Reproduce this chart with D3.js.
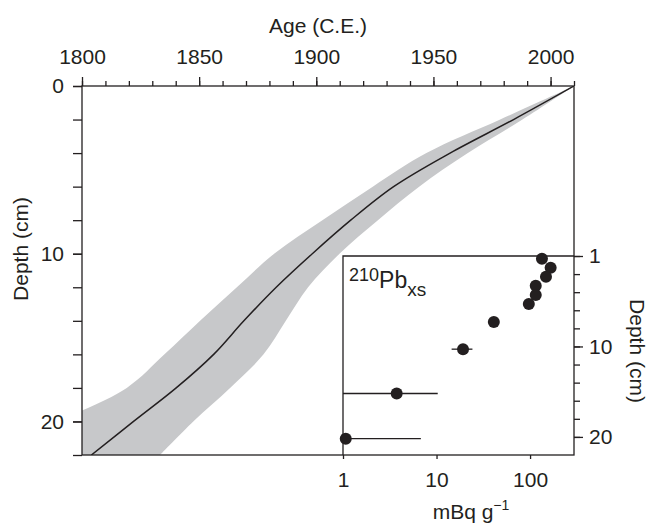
<!DOCTYPE html>
<html>
<head>
<meta charset="utf-8">
<script src="https://cdn.jsdelivr.net/npm/d3@7"></script>
<style>
  body { margin: 0; background: #fff; }
  svg { display: block; font-family: "Liberation Sans", Arial, sans-serif; }
</style>
</head>
<body>
<div id="chart-area"></div>
<script>
// age-depth model (depth in cm, ages in years C.E.)
var modelDepth    = [0, 2, 4, 6, 8, 10, 12, 14, 16, 18, 20, 22];
var modelAge      = [2010, 1984.2, 1957.1, 1933.0, 1914.7, 1898.3, 1882.9, 1869.1, 1856.2, 1840.2, 1822, 1804];
var modelAgeOld   = [2010, 1978.5, 1947.0, 1924.1, 1902.6, 1882.0, 1866.1, 1850.4, 1835.2, 1819.1, 1790, 1762];
var modelAgeYoung = [2010, 1988.0, 1964.7, 1943.9, 1926.3, 1909.9, 1896.5, 1887.0, 1877.5, 1863.2, 1847.5, 1833.3];

// 210Pb excess activity (inset)
var pbDepth    = [0.3, 1.3, 2.3, 3.3, 4.3, 5.3, 7.3, 10.3, 15.2, 20.2];
var pbActivity = [134, 166, 148, 115, 115, 97, 41, 19.2, 3.75, 1.07];
var pbErrLow   = [null, null, null, null, null, null, null, 14.5, 0.3, 0.3];
var pbErrHigh  = [null, null, null, null, null, null, null, 24.2, 10.3, 6.8];

// ticks
var ageMajorTicks   = [1800, 1850, 1900, 1950, 2000];
var ageMinorTicks   = d3.range(1800, 2011, 10);
var depthMajorTicks = [0, 10, 20];
var depthMinorTicks = d3.range(0, 23, 2);
var insetDepthMajor = [0, 10, 20];
var insetDepthLabels = ["1", "10", "20"];
var insetDepthMinor = d3.range(0, 21, 2);
var activityTicks   = [1, 10, 100];

var ink = "#231f20";
var fontSize = 21;

var svg = d3.select("#chart-area")
    .append("svg")
        .attr("width", 649)
        .attr("height", 524);

// main scales
var x = d3.scaleLinear().domain([1800, 2010]).range([82, 574]);
var y = d3.scaleLinear().domain([0, 22]).range([86, 455]);

// inset scales
var xi = d3.scaleLog().domain([1, 295]).range([343, 574]);
var yi = d3.scaleLinear().domain([0, 22]).range([256, 455]);

svg.append("clipPath").attr("id", "plot-clip")
    .append("rect").attr("x", 82).attr("y", 86).attr("width", 492).attr("height", 369);
svg.append("clipPath").attr("id", "inset-clip")
    .append("rect").attr("x", 343).attr("y", 256).attr("width", 231).attr("height", 199);

var model = modelDepth.map(function(d, i) {
    return { depth: d, age: modelAge[i], old: modelAgeOld[i], young: modelAgeYoung[i] };
});

var plot = svg.append("g").attr("clip-path", "url(#plot-clip)");

// uncertainty band
plot.append("path")
    .datum(model)
    .attr("fill", "#c7c8ca")
    .attr("d", d3.area()
        .curve(d3.curveCatmullRom.alpha(0.5))
        .y(function(d) { return y(d.depth); })
        .x0(function(d) { return x(d.old); })
        .x1(function(d) { return x(d.young); }));

// median line
plot.append("path")
    .datum(model)
    .attr("fill", "none")
    .attr("stroke", ink)
    .attr("stroke-width", 1.5)
    .attr("d", d3.line()
        .curve(d3.curveCatmullRom.alpha(0.5))
        .x(function(d) { return x(d.age); })
        .y(function(d) { return y(d.depth); }));

// inset background
svg.append("rect")
    .attr("x", 343).attr("y", 256)
    .attr("width", 231).attr("height", 199)
    .attr("fill", "#fff");

// frame
svg.append("rect")
    .attr("x", 82).attr("y", 86)
    .attr("width", 492).attr("height", 369)
    .attr("fill", "none")
    .attr("stroke", ink)
    .attr("stroke-width", 1.3);

function styleAxis(g) {
    g.select(".domain").remove();
    g.selectAll("line").attr("stroke", ink).attr("stroke-width", 1.3);
    g.selectAll("text")
        .attr("fill", ink)
        .attr("font-size", fontSize)
        .attr("font-family", "Liberation Sans, Arial, sans-serif");
}

// top axis (age)
svg.append("g")
    .attr("transform", "translate(0,86)")
    .call(d3.axisTop(x).tickValues(ageMinorTicks).tickSize(5).tickFormat(""))
    .call(styleAxis);
svg.append("g")
    .attr("transform", "translate(0,86)")
    .call(d3.axisTop(x).tickValues(ageMajorTicks).tickSize(9).tickPadding(13).tickFormat(d3.format("d")))
    .call(styleAxis);

svg.append("text")
    .attr("x", 318).attr("y", 33)
    .attr("text-anchor", "middle")
    .attr("font-size", fontSize)
    .attr("fill", ink)
    .text("Age (C.E.)");

// left axis (depth)
svg.append("g")
    .attr("transform", "translate(82,0)")
    .call(d3.axisLeft(y).tickValues(depthMinorTicks).tickSize(9).tickFormat(""))
    .call(styleAxis);
svg.append("g")
    .attr("transform", "translate(82,0)")
    .call(d3.axisLeft(y).tickValues(depthMajorTicks).tickSize(9).tickPadding(9).tickFormat(d3.format("d")))
    .call(styleAxis);

svg.append("text")
    .attr("transform", "translate(28,249) rotate(-90)")
    .attr("text-anchor", "middle")
    .attr("font-size", fontSize)
    .attr("fill", ink)
    .text("Depth (cm)");

// inset frame lines (top and left)
svg.append("path")
    .attr("d", "M" + xi(1) + "," + yi(22) + "V" + yi(0) + "H" + xi(295))
    .attr("fill", "none")
    .attr("stroke", ink)
    .attr("stroke-width", 1.3);

// inset right axis
svg.append("g")
    .attr("transform", "translate(574,0)")
    .call(d3.axisRight(yi).tickValues(insetDepthMinor).tickSize(6).tickFormat(""))
    .call(styleAxis);
svg.append("g")
    .attr("transform", "translate(574,0)")
    .call(d3.axisRight(yi).tickValues(insetDepthMajor).tickSize(9).tickPadding(6)
        .tickFormat(function(d, i) { return insetDepthLabels[i]; }))
    .call(styleAxis);

svg.append("text")
    .attr("transform", "translate(630,351) rotate(90)")
    .attr("text-anchor", "middle")
    .attr("font-size", fontSize)
    .attr("fill", ink)
    .text("Depth (cm)");

// inset bottom axis
svg.append("g")
    .attr("transform", "translate(0,455)")
    .call(d3.axisBottom(xi).tickValues(activityTicks).tickSize(4).tickPadding(13).tickFormat(d3.format("d")))
    .call(styleAxis);

var unit = svg.append("text")
    .attr("x", 471).attr("y", 519)
    .attr("text-anchor", "middle")
    .attr("font-size", fontSize)
    .attr("fill", ink);
unit.append("tspan").text("mBq g");
unit.append("tspan").attr("font-size", 14).attr("dy", -9).text("\u22121");

// inset label
var lab = svg.append("text")
    .attr("x", 349).attr("y", 288)
    .attr("fill", ink);
lab.append("tspan").attr("font-size", 18).attr("dy", -7).text("210");
lab.append("tspan").attr("font-size", 23).attr("dy", 7).text("Pb");
lab.append("tspan").attr("font-size", 19).attr("dy", 8).text("xs");

// inset data
var pb = pbDepth.map(function(d, i) {
    return { depth: d, value: pbActivity[i], lo: pbErrLow[i], hi: pbErrHigh[i] };
});

var inset = svg.append("g").attr("clip-path", "url(#inset-clip)");

inset.selectAll("line.err")
    .data(pb.filter(function(d) { return d.lo !== null; }))
    .enter().append("line")
        .attr("class", "err")
        .attr("x1", function(d) { return xi(d.lo); })
        .attr("x2", function(d) { return xi(d.hi); })
        .attr("y1", function(d) { return yi(d.depth); })
        .attr("y2", function(d) { return yi(d.depth); })
        .attr("stroke", ink)
        .attr("stroke-width", 1.3);

svg.selectAll("circle.pb")
    .data(pb)
    .enter().append("circle")
        .attr("class", "pb")
        .attr("cx", function(d) { return xi(d.value); })
        .attr("cy", function(d) { return yi(d.depth); })
        .attr("r", 6)
        .attr("fill", ink);
</script>
</body>
</html>
